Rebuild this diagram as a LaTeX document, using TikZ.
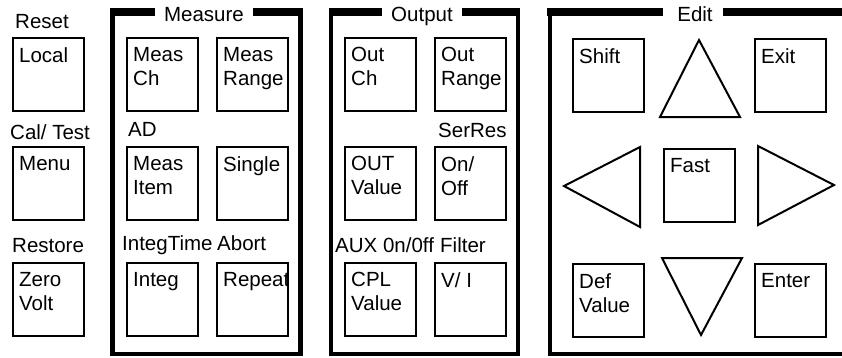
\documentclass[tikz,border=0pt]{standalone}
\usepackage{fontspec}
\setmainfont{Liberation Sans}
\usetikzlibrary{positioning}

\begin{document}
\begin{tikzpicture}[x=1pt,y=-1pt,every node/.style={font=\fontsize{20.5}{24}\selectfont},
key/.style={draw,line width=2pt,minimum width=71pt,minimum height=73pt,anchor=north west,inner sep=0pt,outer sep=0pt},
keytext/.style={anchor=north west,align=left,inner sep=0pt,xshift=6pt,yshift=-9pt},
tag/.style={anchor=base west,inner sep=0pt},
title/.style={anchor=base,inner sep=0pt},
frameline/.style={line width=4.5pt},
arrowkey/.style={line width=2pt}]
\useasboundingbox (0,0) rectangle (842,357);
% left column
\node[tag] (reset) at (15,28) {Reset};
\node[key,label={[keytext]north west:Local}] (local) at (13,38) {};
\node[tag] (caltest) at (10,139) {Cal/ Test};
\node[key,label={[keytext]north west:Menu}] (menu) at (13,147) {};
\node[tag] (restore) at (12,252) {Restore};
\node[key,label={[keytext]north west:{Zero\\Volt}}] (zero) at (13,263) {};
% Measure panel
\fill (110,8) rectangle (155,16);\fill (253,8) rectangle (303,16);
\draw[frameline] (112.5,12) |- (300.5,354) -- (300.5,12);
\node[title] (measure) at (204,21) {Measure};
\node[key,label={[keytext]north west:{Meas\\Ch}}] (measch) at (127,38) {};
\node[key,label={[keytext]north west:{Meas\\Range}}] (measrange) at (217,38) {};
\node[tag] (ad) at (128,136) {AD};
\node[key,label={[keytext]north west:{Meas\\Item}}] (measitem) at (127,147) {};
\node[key,label={[keytext]north west:Single}] (single) at (217,147) {};
\node[tag] (integtime) at (122,250) {IntegTime};\node[tag] (abort) at (217,250) {Abort};
\node[key,label={[keytext]north west:Integ}] (integ) at (127,263) {};
\node[key,label={[keytext]north west:Repeat}] (repeat) at (217,263) {};
% Output panel
\fill (329,8) rectangle (382,16);\fill (462,8) rectangle (520,16);
\draw[frameline] (331,12) |- (518,354) -- (518,12);
\node[title] (output) at (422,21) {Output};
\node[key,label={[keytext]north west:{Out\\Ch}}] (outch) at (345,38) {};
\node[key,label={[keytext]north west:{Out\\Range}}] (outrange) at (435,38) {};
\node[tag] (serres) at (438,137) {SerRes};
\node[key,label={[keytext]north west:{OUT\\Value}}] (outvalue) at (345,147) {};
\node[key,label={[keytext]north west:{On/\\Off}}] (onoff) at (435,147) {};
\node[tag] (aux) at (335,252) {AUX 0n/0ff};\node[tag] (filter) at (440,252) {Filter};
\node[key,label={[keytext]north west:{CPL\\Value}}] (cpl) at (345,263) {};
\node[key,label={[keytext]north west:V/ I}] (vi) at (435,263) {};
% Edit panel
\fill (547,8) rectangle (663,16);\fill (723,8) rectangle (842,16);
\draw[frameline] (550,12) |- (842,354);
\node[title] (edit) at (695,21) {Edit};
\node[key,label={[keytext]north west:Shift}] (shift) at (573,39) {};
\node[key,label={[keytext]north west:Exit}] (exit) at (755,39) {};
\node[key,label={[keytext]north west:Fast}] (fast) at (664,149) {};
\node[key,label={[keytext]north west:{Def\\Value}}] (defvalue) at (573,264) {};
\node[key,label={[keytext]north west:Enter}] (enter) at (755,264) {};
\draw[arrowkey] (699,40) -- (740,117) -- (660,117) -- cycle;
\draw[arrowkey] (640,147) -- (564,186) -- (640,227) -- cycle;
\draw[arrowkey] (758,146) -- (834,185) -- (758,225) -- cycle;
\draw[arrowkey] (662,258) -- (742,258) -- (701,335) -- cycle;
\end{tikzpicture}
\end{document}
